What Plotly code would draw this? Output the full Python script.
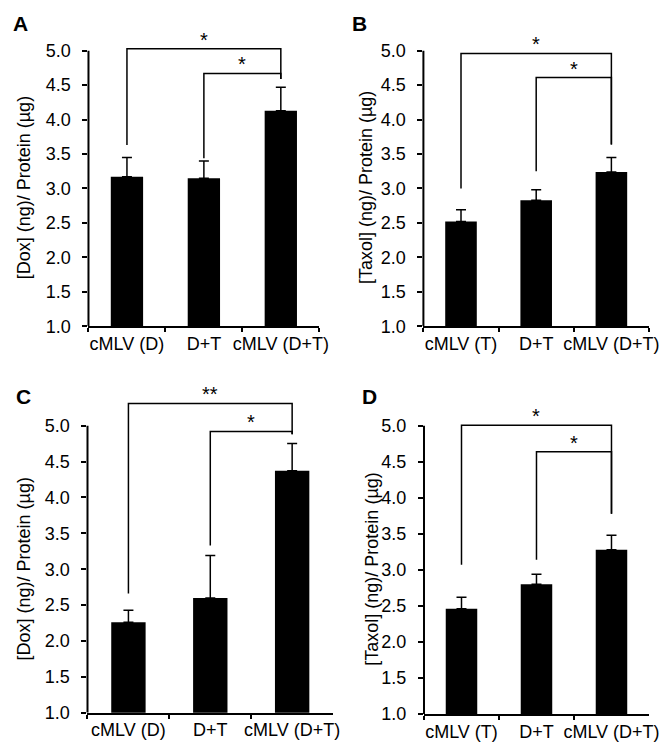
import plotly.graph_objects as go

# ---------------- data ----------------
cats_D = ["cMLV (D)", "D+T", "cMLV (D+T)"]
cats_T = ["cMLV (T)", "D+T", "cMLV (D+T)"]

A_vals = [3.17, 3.15, 4.13]
A_err = [0.28, 0.25, 0.34]
B_vals = [2.52, 2.83, 3.24]
B_err = [0.17, 0.15, 0.21]
C_vals = [2.26, 2.60, 4.37]
C_err = [0.17, 0.59, 0.38]
D_vals = [2.46, 2.80, 3.28]
D_err = [0.16, 0.14, 0.20]

ytitle_dox = "[Dox] (ng)/ Protein (µg)"
ytitle_tax = "[Taxol] (ng)/ Protein (µg)"
ytick_vals = [1.0, 1.5, 2.0, 2.5, 3.0, 3.5, 4.0, 4.5, 5.0]

# significance brackets: (left idx, right idx, level, left leg end, right leg end, label)
A_brackets = [(0, 2, 5.03, 3.63, 4.59, "*"), (1, 2, 4.67, 3.44, 4.59, "*")]
B_brackets = [(0, 2, 4.96, 3.00, 3.64, "*"), (1, 2, 4.61, 3.25, 3.64, "*")]
C_brackets = [(0, 2, 5.31, 2.66, 4.88, "**"), (1, 2, 4.92, 3.33, 4.88, "*")]
D_brackets = [(0, 2, 5.01, 3.07, 3.78, "*"), (1, 2, 4.64, 3.14, 3.78, "*")]

FONT = "Liberation Sans, Arial, sans-serif"

panels = [
    dict(letter="A", cats=cats_D, vals=A_vals, err=A_err, br=A_brackets, ytitle=ytitle_dox,
         xdom=[0.12194, 0.47164], ydom=[0.5706, 0.9888],
         title_xy=(0.0246, 0.757), letter_xy=(3 / 670, 1 - 2 / 751)),
    dict(letter="B", cats=cats_T, vals=B_vals, err=B_err, br=B_brackets, ytitle=ytitle_tax,
         xdom=[0.62940, 0.97119], ydom=[0.5706, 0.9888],
         title_xy=(0.5425, 0.757), letter_xy=(347 / 670, 1 - 2 / 751)),
    dict(letter="C", cats=cats_D, vals=C_vals, err=C_err, br=C_brackets, ytitle=ytitle_dox,
         xdom=[0.12045, 0.49254], ydom=[0.04887, 0.48482],
         title_xy=(0.0246, 0.2426), letter_xy=(6 / 670, 1 - 380 / 751)),
    dict(letter="D", cats=cats_T, vals=D_vals, err=D_err, br=D_brackets, ytitle=ytitle_tax,
         xdom=[0.63030, 0.97119], ydom=[0.04727, 0.48469],
         title_xy=(0.5522, 0.2426), letter_xy=(357 / 670, 1 - 380 / 751)),
]

fig = go.Figure()
layout = dict(
    width=670, height=751,
    margin=dict(l=0, r=0, t=0, b=0),
    paper_bgcolor="white", plot_bgcolor="white",
    showlegend=False,
    font=dict(family=FONT, color="black", size=18),
    annotations=[], shapes=[],
)

for i, p in enumerate(panels):
    n = "" if i == 0 else str(i + 1)
    xa, ya = "x" + n, "y" + n
    fig.add_trace(go.Bar(
        x=p["cats"], y=p["vals"],
        marker=dict(color="black", line=dict(width=0)),
        width=0.42,
        error_y=dict(type="data", array=p["err"], symmetric=False,
                     arrayminus=[0] * len(p["err"]), color="black",
                     thickness=1.5, width=5),
        xaxis=xa, yaxis=ya, hoverinfo="skip",
    ))
    for (l, r, lev, yl, yr, lab) in p["br"]:
        fig.add_trace(go.Scatter(
            x=[p["cats"][l], p["cats"][l], p["cats"][r], p["cats"][r]],
            y=[yl, lev, lev, yr], mode="lines",
            line=dict(color="black", width=1.5),
            xaxis=xa, yaxis=ya, hoverinfo="skip",
        ))
        layout["annotations"].append(dict(
            x=(l + r) / 2, y=lev, xref=xa, yref=ya, text=lab, showarrow=False,
            yanchor="bottom", xanchor="center", yshift=-4,
            font=dict(size=20, family=FONT, color="black"),
        ))
    layout["xaxis" + n] = dict(
        domain=p["xdom"], anchor=ya, type="category",
        range=[-0.5, 2.5], tickangle=0,
        showline=True, linecolor="black", linewidth=2,
        ticks="outside", tickson="boundaries", ticklen=4, tickwidth=2, tickcolor="black",
        showgrid=False, zeroline=False,
        tickfont=dict(size=18, family=FONT, color="black"),
    )
    layout["yaxis" + n] = dict(
        domain=p["ydom"], anchor=xa, range=[1, 5.5],
        tickvals=ytick_vals, tickformat=".1f",
        showline=False, ticks="outside", ticklen=5, tickwidth=2, tickcolor="black",
        ticklabelstandoff=8,
        showgrid=False, zeroline=False,
        tickfont=dict(size=18, family=FONT, color="black"),
    )
    # y axis line from 1.0 to 5.0 only (brackets may rise above 5.0)
    layout["shapes"].append(dict(
        type="line", xref=xa + " domain", yref=ya, x0=0, x1=0,
        y0=ytick_vals[0], y1=ytick_vals[-1], line=dict(color="black", width=2),
    ))
    layout["annotations"].append(dict(
        x=p["title_xy"][0], y=p["title_xy"][1], xref="paper", yref="paper",
        text=p["ytitle"], textangle=-90, showarrow=False,
        xanchor="center", yanchor="middle",
        font=dict(size=18, family=FONT, color="black"),
    ))
    layout["annotations"].append(dict(
        x=p["letter_xy"][0], y=p["letter_xy"][1], xref="paper", yref="paper",
        text="<b>" + p["letter"] + "</b>", showarrow=False,
        xanchor="left", yanchor="top",
        font=dict(size=21, family=FONT, color="black"),
    ))

fig.update_layout(**layout)
fig.write_html("out.html")
